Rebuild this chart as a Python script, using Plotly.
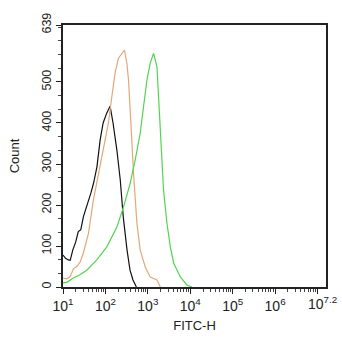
import plotly.graph_objects as go

# log10(FITC-H) positions and counts
black_log = [1.0, 1.06, 1.125, 1.17, 1.23, 1.30, 1.36, 1.42, 1.48, 1.54, 1.60, 1.66, 1.72, 1.80, 1.875, 1.946, 2.03, 2.07, 2.11, 2.18, 2.27, 2.35, 2.42, 2.51, 2.58, 2.65, 2.73]
black_cnt = [78, 70, 66, 65, 90, 110, 135, 140, 171, 190, 212, 230, 253, 293, 358, 400, 424, 432, 441, 400, 334, 261, 171, 90, 41, 17, 0]

orange_log = [1.0, 1.08, 1.165, 1.25, 1.324, 1.40, 1.48, 1.60, 1.716, 1.835, 1.953, 2.071, 2.151, 2.229, 2.307, 2.388, 2.449, 2.506, 2.544, 2.60, 2.662, 2.742, 2.82, 2.939, 3.057, 3.215, 3.293]
orange_cnt = [22, 20, 25, 45, 50, 60, 83, 131, 212, 278, 342, 400, 464, 522, 558, 570, 578, 546, 505, 400, 278, 156, 90, 49, 24, 17, 0]

green_log = [1.0, 1.1, 1.243, 1.40, 1.56, 1.70, 1.797, 2.033, 2.27, 2.426, 2.584, 2.702, 2.82, 2.898, 2.979, 3.057, 3.135, 3.215, 3.25, 3.30, 3.37, 3.45, 3.53, 3.61, 3.77, 3.92, 4.04]
green_cnt = [10, 12, 22, 30, 41, 55, 66, 98, 146, 195, 253, 310, 375, 439, 505, 546, 570, 537, 470, 380, 237, 156, 98, 58, 24, 5, 0]

x_tick_vals = [10, 100, 1000, 10000, 100000, 1000000, 10000000]
x_tick_text = ["10<sup>1</sup>", "10<sup>2</sup>", "10<sup>3</sup>", "10<sup>4</sup>",
               "10<sup>5</sup>", "10<sup>6</sup>", ""]
x_end_label = "10<sup>7.2</sup>"
x_end_log = 7.2
y_tick_vals = [0, 100, 200, 300, 400, 500, 639]
y_tick_text = ["0", "100", "200", "300", "400", "500", "639"]

fig = go.Figure()
for lg, cnt, col in [(black_log, black_cnt, "#111111"),
                     (orange_log, orange_cnt, "#e3a878"),
                     (green_log, green_cnt, "#52d452")]:
    fig.add_trace(go.Scatter(x=[10 ** v for v in lg], y=cnt, mode="lines",
                             line=dict(color=col, width=1.2), showlegend=False,
                             hoverinfo="skip"))

fig.add_annotation(x=x_end_log, xref="x", y=0, yref="paper", yanchor="top",
                   xanchor="center", xshift=-4, yshift=-5, showarrow=False,
                   text=x_end_label, font=dict(size=14))

axis_font = dict(family="Liberation Sans, Arial, sans-serif", color="#222222")
fig.update_layout(
    width=342, height=350,
    margin=dict(l=63, r=16, t=25, b=63),
    paper_bgcolor="white", plot_bgcolor="white",
    font=axis_font,
    xaxis=dict(type="log", range=[1, 7.2], tickmode="array", tickvals=x_tick_vals,
               ticktext=x_tick_text, ticks="outside", ticklen=5, tickcolor="#222",
               tickangle=0, automargin=False,
               showline=True, linecolor="#222", linewidth=1.5, mirror=True,
               showgrid=False, zeroline=False, tickfont=dict(size=14),
               minor=dict(ticks="outside", ticklen=3, tickcolor="#444", dtick="D1", showgrid=False),
               title=dict(text="FITC-H", font=dict(size=13), standoff=8)),
    yaxis=dict(range=[0, 639], tickmode="array", tickvals=y_tick_vals, ticktext=y_tick_text,
               ticks="outside", ticklen=5, tickcolor="#222", tickangle=-90, automargin=False,
               showline=True, linecolor="#222", linewidth=1.5, mirror=True,
               showgrid=False, zeroline=False, tickfont=dict(size=12.5),
               minor=dict(ticks="outside", ticklen=3, tickcolor="#444", tickmode="linear",
                          tick0=0, dtick=100 / 3, showgrid=False),
               title=dict(text="Count", font=dict(size=13), standoff=18)),
)
fig.write_html("out.html", config={"displayModeBar": False},
               post_script="document.body.style.margin='0';")
